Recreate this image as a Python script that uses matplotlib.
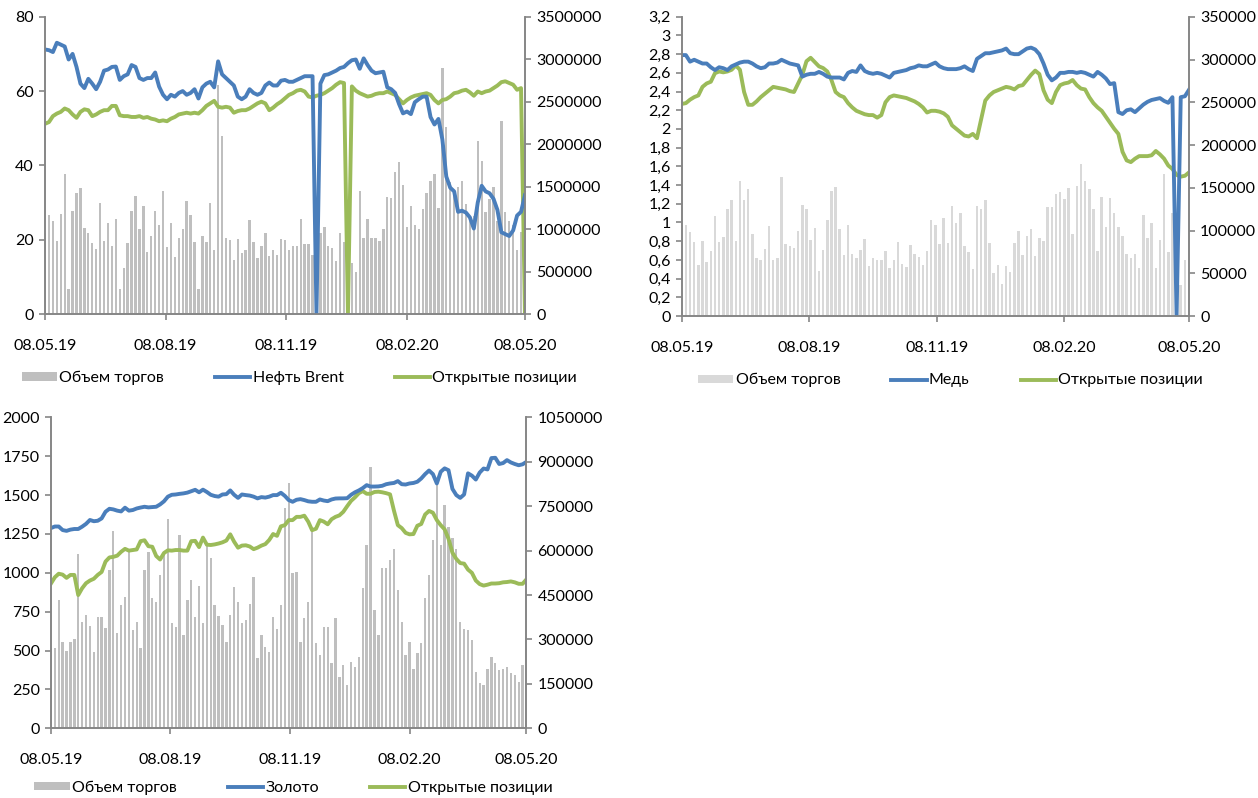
import matplotlib
matplotlib.use("Agg")
import matplotlib.pyplot as plt
import matplotlib.dates as mdates
from matplotlib.ticker import FuncFormatter
import pandas as pd

plt.rcParams['font.family'] = ['Lato', 'DejaVu Sans']
plt.rcParams['font.size'] = 11.5

# one point every 3 days, 08.05.19 .. 08.05.20
dates = pd.date_range('2019-05-08', periods=123, freq='3D')
xticks = pd.to_datetime(['2019-05-08', '2019-08-08', '2019-11-08', '2020-02-08', '2020-05-08'])

# --- Brent ---
brent_volume = [
    950000, 1170000, 1100000, 860000, 1180000, 1650000, 300000, 1210000, 1430000, 1480000,
    1010000, 950000, 840000, 770000, 1310000, 860000, 1070000, 800000, 1120000, 300000,
    540000, 840000, 1210000, 1390000, 1000000, 1270000, 730000, 920000, 1210000, 1050000,
    1450000, 790000, 1070000, 670000, 900000, 1000000, 1330000, 1170000, 850000, 300000,
    920000, 850000, 1310000, 750000, 2700000, 2100000, 900000, 870000, 640000, 880000,
    720000, 750000, 1110000, 850000, 660000, 800000, 950000, 680000, 750000, 700000,
    880000, 870000, 750000, 800000, 800000, 1120000, 830000, 830000, 700000, 750000,
    950000, 1020000, 800000, 780000, 620000, 950000, 850000, 600000, 600000, 490000,
    1450000, 900000, 1120000, 890000, 890000, 860000, 1000000, 1380000, 1370000, 1670000,
    1790000, 1520000, 1030000, 1270000, 1050000, 1000000, 1240000, 1420000, 1570000, 1650000,
    1250000, 2900000, 2200000, 1550000, 1400000, 1500000, 1570000, 1300000, 1100000, 1150000,
    2040000, 1800000, 1200000, 1350000, 1500000, 1100000, 2270000, 1200000, 1100000, 1050000,
    750000, 970000, 800000]
brent_price = [
    71.2, 71.0, 70.5, 73.0, 72.5, 72.0, 68.5, 70.0, 66.5, 62.0,
    60.8, 63.3, 62.0, 60.5, 62.5, 65.5, 65.8, 66.5, 66.6, 63.0,
    64.0, 64.5, 67.0, 66.5, 63.5, 63.0, 63.5, 63.5, 65.0, 61.2,
    59.0, 57.8, 59.0, 58.5, 59.5, 60.0, 59.0, 59.5, 60.5, 58.0,
    61.0, 62.0, 62.5, 61.0, 68.0, 64.5, 63.5, 62.5, 61.5, 58.5,
    57.8, 58.5, 60.5, 59.5, 59.0, 59.5, 61.5, 62.3, 61.5, 61.5,
    62.8, 63.0, 62.5, 62.5, 63.0, 63.5, 64.0, 64.0, 64.0, 0.0,
    62.0, 64.3, 64.5, 65.0, 65.5, 66.2, 66.5, 67.5, 68.3, 68.5,
    66.0, 68.8, 67.0, 65.5, 64.8, 65.0, 65.2, 61.0, 60.5, 59.5,
    56.5, 54.0, 54.5, 53.8, 57.0, 57.8, 58.5, 58.5, 53.0, 51.0,
    52.5, 47.0, 37.0, 34.0, 33.0, 27.5, 27.8, 27.3, 26.0, 23.0,
    30.0, 34.5, 33.0, 32.5, 31.0, 28.0, 22.0, 21.5, 21.0, 22.5,
    26.5, 27.5, 32.0]
brent_oi = [
    2240000, 2260000, 2330000, 2360000, 2380000, 2420000, 2400000, 2350000, 2310000, 2380000,
    2410000, 2400000, 2330000, 2350000, 2380000, 2400000, 2400000, 2450000, 2450000, 2340000,
    2330000, 2330000, 2320000, 2320000, 2330000, 2310000, 2320000, 2300000, 2290000, 2270000,
    2280000, 2270000, 2300000, 2320000, 2350000, 2360000, 2370000, 2360000, 2370000, 2360000,
    2400000, 2450000, 2480000, 2510000, 2440000, 2430000, 2440000, 2430000, 2370000, 2390000,
    2400000, 2400000, 2420000, 2450000, 2480000, 2500000, 2480000, 2400000, 2430000, 2470000,
    2500000, 2540000, 2580000, 2600000, 2630000, 2640000, 2620000, 2560000, 2550000, 2570000,
    2580000, 2600000, 2630000, 2660000, 2700000, 2730000, 2720000, 0, 2680000, 2630000,
    2600000, 2580000, 2560000, 2570000, 2590000, 2600000, 2600000, 2620000, 2600000, 2580000,
    2530000, 2480000, 2520000, 2550000, 2570000, 2580000, 2590000, 2600000, 2580000, 2520000,
    2480000, 2520000, 2530000, 2560000, 2600000, 2610000, 2630000, 2640000, 2610000, 2570000,
    2620000, 2600000, 2620000, 2630000, 2660000, 2690000, 2730000, 2740000, 2720000, 2700000,
    2640000, 2660000, 0]

# --- Copper ---
copper_volume = [
    107000, 107000, 98000, 87000, 60000, 88000, 63000, 76000, 117000, 87000,
    92000, 125000, 136000, 88000, 158000, 136000, 148000, 96000, 68000, 66000,
    78000, 105000, 65000, 68000, 162000, 84000, 82000, 79000, 99000, 130000,
    125000, 89000, 103000, 53000, 77000, 112000, 146000, 151000, 102000, 71000,
    106000, 72000, 68000, 77000, 90000, 59000, 68000, 65000, 65000, 76000,
    56000, 66000, 87000, 61000, 57000, 83000, 73000, 69000, 60000, 76000,
    112000, 107000, 84000, 115000, 85000, 129000, 109000, 121000, 82000, 75000,
    55000, 129000, 125000, 136000, 85000, 50000, 60000, 38000, 59000, 51000,
    85000, 100000, 71000, 94000, 102000, 70000, 91000, 88000, 127000, 127000,
    143000, 145000, 137000, 150000, 96000, 152000, 178000, 158000, 148000, 125000,
    76000, 139000, 104000, 138000, 120000, 104000, 94000, 72000, 68000, 72000,
    56000, 118000, 91000, 109000, 56000, 89000, 166000, 75000, 120000, 49000,
    36000, 65000, 55000]
copper_price = [
    2.79, 2.79, 2.72, 2.74, 2.72, 2.70, 2.70, 2.66, 2.63, 2.66,
    2.65, 2.63, 2.67, 2.69, 2.71, 2.72, 2.72, 2.70, 2.67, 2.65,
    2.66, 2.70, 2.70, 2.71, 2.74, 2.72, 2.70, 2.69, 2.68, 2.56,
    2.58, 2.59, 2.59, 2.61, 2.59, 2.56, 2.55, 2.55, 2.55, 2.53,
    2.60, 2.62, 2.61, 2.68, 2.62, 2.60, 2.59, 2.60, 2.59, 2.57,
    2.55, 2.60, 2.61, 2.62, 2.63, 2.65, 2.66, 2.68, 2.67, 2.67,
    2.69, 2.71, 2.67, 2.65, 2.64, 2.64, 2.64, 2.65, 2.67, 2.64,
    2.62, 2.75, 2.78, 2.81, 2.81, 2.82, 2.83, 2.84, 2.86, 2.81,
    2.80, 2.80, 2.83, 2.86, 2.87, 2.85, 2.80, 2.70, 2.58, 2.52,
    2.55, 2.60, 2.60, 2.61, 2.61, 2.60, 2.61, 2.60, 2.58, 2.56,
    2.61, 2.58, 2.54, 2.48, 2.49, 2.18, 2.16, 2.20, 2.21, 2.18,
    2.22, 2.26, 2.29, 2.31, 2.32, 2.33, 2.30, 2.28, 2.34, 0.0,
    2.34, 2.35, 2.42]
copper_oi = [
    248000, 249000, 253000, 256000, 258000, 268000, 272000, 274000, 284000, 286000,
    285000, 286000, 288000, 293000, 288000, 262000, 247000, 247000, 251000, 256000,
    260000, 264000, 268000, 267000, 266000, 265000, 263000, 262000, 272000, 282000,
    298000, 302000, 297000, 292000, 290000, 286000, 276000, 262000, 258000, 256000,
    249000, 244000, 240000, 238000, 236000, 235000, 235000, 232000, 235000, 250000,
    256000, 258000, 257000, 256000, 255000, 253000, 251000, 248000, 244000, 238000,
    240000, 240000, 239000, 237000, 233000, 223000, 219000, 215000, 211000, 210000,
    213000, 208000, 230000, 252000, 258000, 262000, 264000, 266000, 268000, 267000,
    265000, 269000, 270000, 276000, 282000, 287000, 283000, 264000, 253000, 249000,
    262000, 270000, 272000, 273000, 276000, 270000, 266000, 265000, 256000, 249000,
    244000, 240000, 233000, 226000, 219000, 213000, 192000, 182000, 180000, 184000,
    187000, 187000, 187000, 188000, 193000, 189000, 184000, 176000, 172000, 165000,
    163000, 164000, 168000]

# --- Gold ---
gold_volume = [
    272000, 272000, 433000, 290000, 261000, 290000, 301000, 588000, 360000, 382000,
    346000, 259000, 377000, 377000, 340000, 534000, 666000, 321000, 416000, 444000,
    596000, 332000, 360000, 270000, 534000, 596000, 439000, 428000, 518000, 590000,
    706000, 354000, 343000, 652000, 315000, 433000, 500000, 377000, 480000, 354000,
    619000, 574000, 416000, 380000, 349000, 293000, 382000, 478000, 427000, 354000,
    366000, 419000, 512000, 236000, 315000, 276000, 259000, 377000, 337000, 416000,
    743000, 827000, 523000, 529000, 293000, 373000, 427000, 664000, 287000, 248000,
    343000, 343000, 219000, 371000, 174000, 214000, 146000, 225000, 208000, 242000,
    473000, 619000, 883000, 399000, 315000, 540000, 540000, 568000, 607000, 467000,
    360000, 248000, 293000, 202000, 253000, 287000, 439000, 518000, 636000, 821000,
    619000, 754000, 681000, 641000, 607000, 360000, 337000, 332000, 298000, 191000,
    152000, 146000, 202000, 242000, 219000, 197000, 202000, 208000, 186000, 180000,
    157000, 214000, 309000]
gold_price = [
    1288, 1298, 1298, 1275, 1270, 1278, 1282, 1282, 1297, 1315,
    1340, 1332, 1335, 1350, 1393, 1412, 1408, 1400, 1395, 1419,
    1400, 1404, 1414, 1420, 1425, 1421, 1423, 1425, 1440, 1460,
    1490, 1502, 1504, 1508, 1511, 1516, 1525, 1534, 1518, 1535,
    1520, 1502, 1494, 1490, 1504, 1506, 1530, 1502, 1482, 1504,
    1500, 1497, 1490, 1479, 1487, 1484, 1490, 1500, 1500, 1515,
    1495, 1468, 1457, 1470, 1474, 1468, 1460, 1457, 1457, 1472,
    1465, 1461, 1472, 1478, 1479, 1479, 1480, 1502, 1518, 1530,
    1545, 1564, 1555, 1555, 1556, 1560, 1570, 1575, 1578, 1590,
    1570, 1568, 1575, 1578, 1586, 1607, 1635, 1658, 1635, 1575,
    1650, 1672, 1660, 1540, 1500, 1482, 1504, 1640, 1625, 1600,
    1645, 1671, 1665, 1738, 1740, 1700, 1706, 1725, 1710, 1700,
    1692, 1698, 1714]
gold_oi = [
    489000, 510000, 522000, 519000, 508000, 518000, 518000, 450000, 473000, 490000,
    499000, 505000, 518000, 528000, 563000, 577000, 579000, 583000, 596000, 606000,
    600000, 602000, 604000, 632000, 635000, 615000, 613000, 582000, 570000, 592000,
    601000, 600000, 602000, 602000, 600000, 600000, 632000, 633000, 612000, 644000,
    620000, 619000, 621000, 624000, 628000, 634000, 655000, 630000, 610000, 617000,
    618000, 614000, 605000, 610000, 617000, 622000, 636000, 656000, 650000, 682000,
    686000, 703000, 703000, 714000, 714000, 718000, 698000, 669000, 674000, 703000,
    698000, 689000, 706000, 714000, 719000, 731000, 750000, 768000, 780000, 794000,
    801000, 792000, 792000, 798000, 799000, 797000, 794000, 790000, 735000, 686000,
    676000, 660000, 655000, 656000, 684000, 690000, 722000, 734000, 728000, 703000,
    686000, 672000, 640000, 593000, 572000, 558000, 556000, 536000, 525000, 499000,
    487000, 482000, 485000, 489000, 489000, 490000, 493000, 494000, 496000, 493000,
    488000, 488000, 503000]

BLUE = '#4a7ebb'
GREEN = '#9bbb59'
AXIS = '#868686'


def comma_fmt(v, pos):
    return ('%g' % round(v, 1)).replace('.', ',')


def int_fmt(v, pos):
    return '%d' % round(v)


def panel(rect, volume, price, oi, name, ymax_l, step_l, ymax_r, step_r, bar_color,
          left_fmt=int_fmt, leg_x=0.53, leg_y=-0.215):
    ax = fig.add_axes(rect)
    ax2 = ax.twinx()
    bars = ax2.bar(dates, volume, width=1.8, color=bar_color, linewidth=0)
    line_p, = ax.plot(dates, price, color=BLUE, lw=2.8, solid_joinstyle='round')
    line_oi, = ax2.plot(dates, oi, color=GREEN, lw=2.8, solid_joinstyle='round')
    # price line on top of the volume bars
    ax.set_zorder(ax2.get_zorder() + 1)
    ax.patch.set_visible(False)

    ax.set_xlim(pd.Timestamp('2019-05-08'), pd.Timestamp('2020-05-08'))
    ax.set_ylim(0, ymax_l)
    ax2.set_ylim(0, ymax_r)
    n_l = int(round(ymax_l / step_l))
    ax.set_yticks([step_l * i for i in range(n_l + 1)])
    ax2.set_yticks(range(0, ymax_r + 1, step_r))
    ax.yaxis.set_major_formatter(FuncFormatter(left_fmt))
    ax2.yaxis.set_major_formatter(FuncFormatter(int_fmt))
    ax.set_xticks(xticks)
    ax.xaxis.set_major_formatter(mdates.DateFormatter('%d.%m.%y'))

    for a in (ax, ax2):
        a.spines['top'].set_visible(False)
        for s in ('left', 'right', 'bottom'):
            a.spines[s].set_color(AXIS)
            a.spines[s].set_linewidth(1.2)
        a.tick_params(colors=AXIS, labelcolor='black', labelsize=11.5, length=4, width=1.2)
    ax.tick_params(axis='x', pad=14)
    ax.tick_params(axis='y', pad=4)
    ax2.tick_params(axis='y', pad=4)

    ax.legend([bars, line_p, line_oi], ['Объем торгов', name, 'Открытые позиции'],
              loc='center', bbox_to_anchor=(leg_x, leg_y), ncol=3, frameon=False,
              handlelength=2.2, handleheight=0.45, handletextpad=0.15,
              columnspacing=3.2, fontsize=11.5)
    return ax


fig = plt.figure(figsize=(12.58, 7.98), dpi=100)

panel([0.0358, 0.6065, 0.3815, 0.3725], brent_volume, brent_price, brent_oi,
      'Нефть Brent', 80, 20, 3500000, 500000, '#bfbfbf')
panel([0.5419, 0.6040, 0.4033, 0.3750], copper_volume, copper_price, copper_oi,
      'Медь', 3.2, 0.2, 350000, 50000, '#d9d9d9', left_fmt=comma_fmt)
panel([0.0405, 0.0873, 0.3780, 0.3897], gold_volume, gold_price, gold_oi,
      'Золото', 2000, 250, 1050000, 150000, '#bfbfbf', leg_x=0.51, leg_y=-0.19)

fig.savefig('out.png', dpi=100)
